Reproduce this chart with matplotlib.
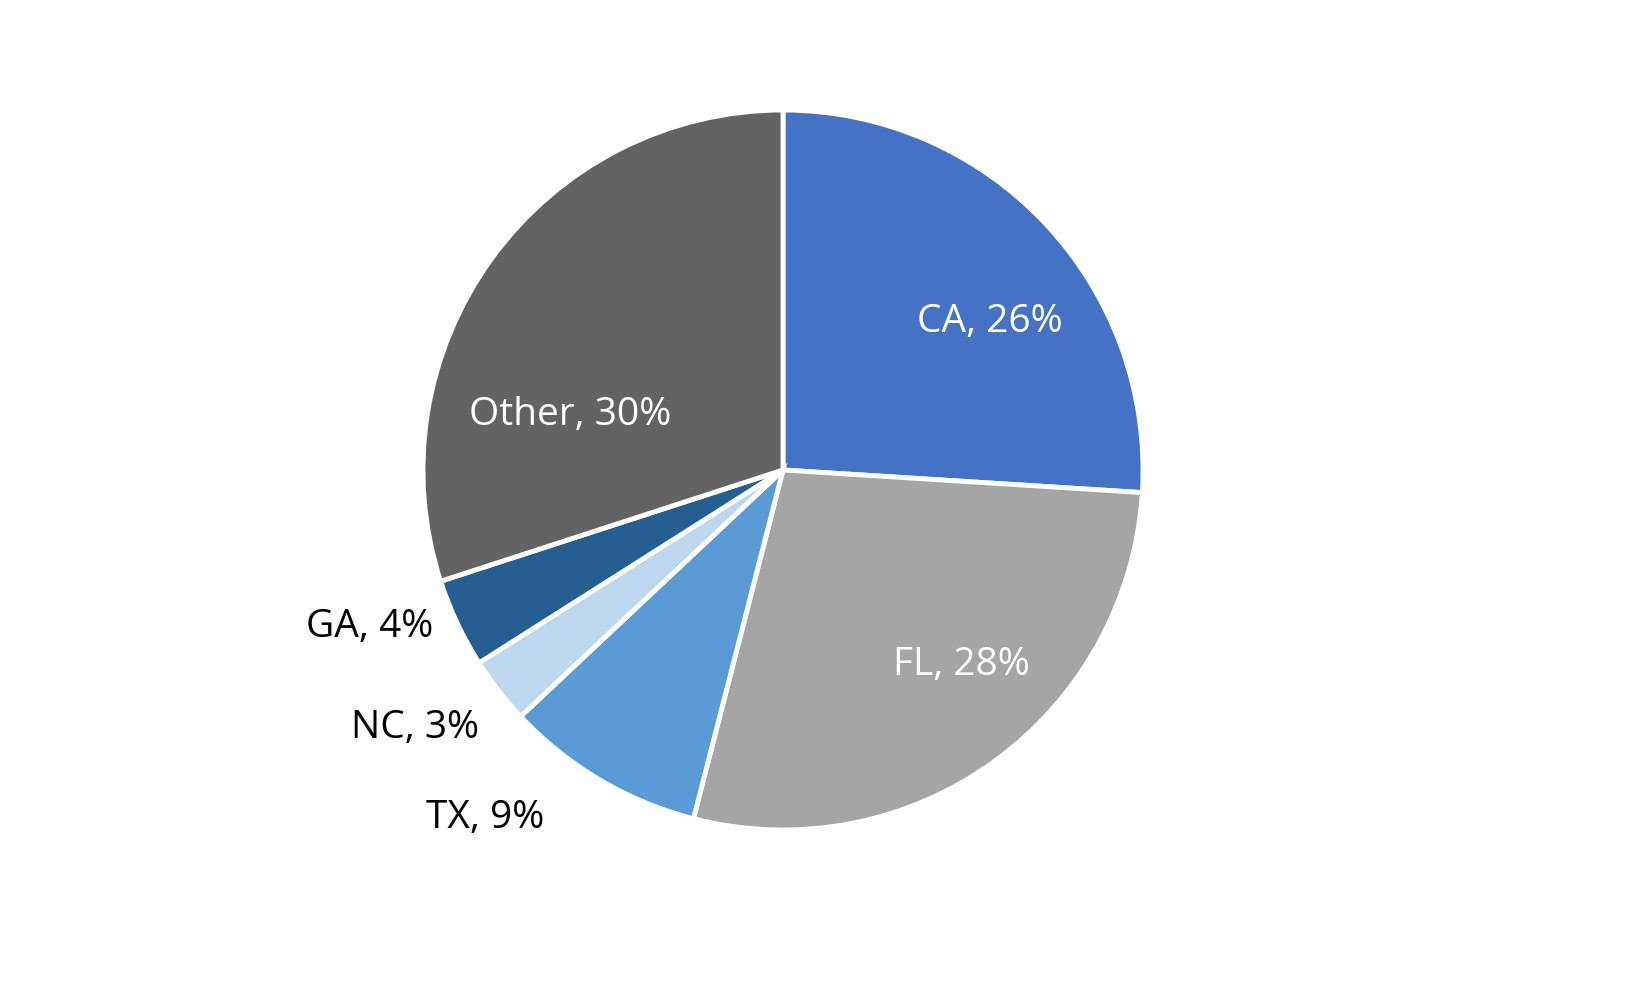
import numpy as np
import matplotlib
matplotlib.use("Agg")
import matplotlib.pyplot as plt

plt.rcParams["font.family"] = ["Open Sans", "DejaVu Sans"]

states = ["CA", "FL", "TX", "NC", "GA", "Other"]
shares = [26, 28, 9, 3, 4, 30]
colors = ["#4472C4", "#A5A5A5", "#5B9BD5", "#BDD7EE", "#255E91", "#636363"]
text_colors = ["white", "white", "black", "black", "black", "white"]
# label placement: radius (fraction of pie radius) and angle tweak in degrees
label_r = [0.707, 0.735, 1.273, 1.248, 1.227, 0.611]
label_da = [-7.6, 6.5, -10.0, -2.8, -4.4, 21.5]

fig = plt.figure(figsize=(16.5, 9.9), dpi=100)
ax = fig.add_axes([(783 - 360) / 1650, (990 - 470 - 360) / 990, 720 / 1650, 720 / 990])
wedges, _ = ax.pie(shares, colors=colors, startangle=90, counterclock=False,
                   wedgeprops=dict(edgecolor="white", linewidth=3.5))
ax.set_xlim(-1, 1)
ax.set_ylim(-1, 1)
ax.set_aspect("equal")

for w, name, val, tc, r, da in zip(wedges, states, shares, text_colors, label_r, label_da):
    mid = np.deg2rad((w.theta1 + w.theta2) / 2 + da)
    ax.text(r * np.cos(mid), r * np.sin(mid), f"{name}, {val}%", color=tc,
            fontsize=28, ha="center", va="center", clip_on=False)

fig.savefig("out.png", dpi=100)
